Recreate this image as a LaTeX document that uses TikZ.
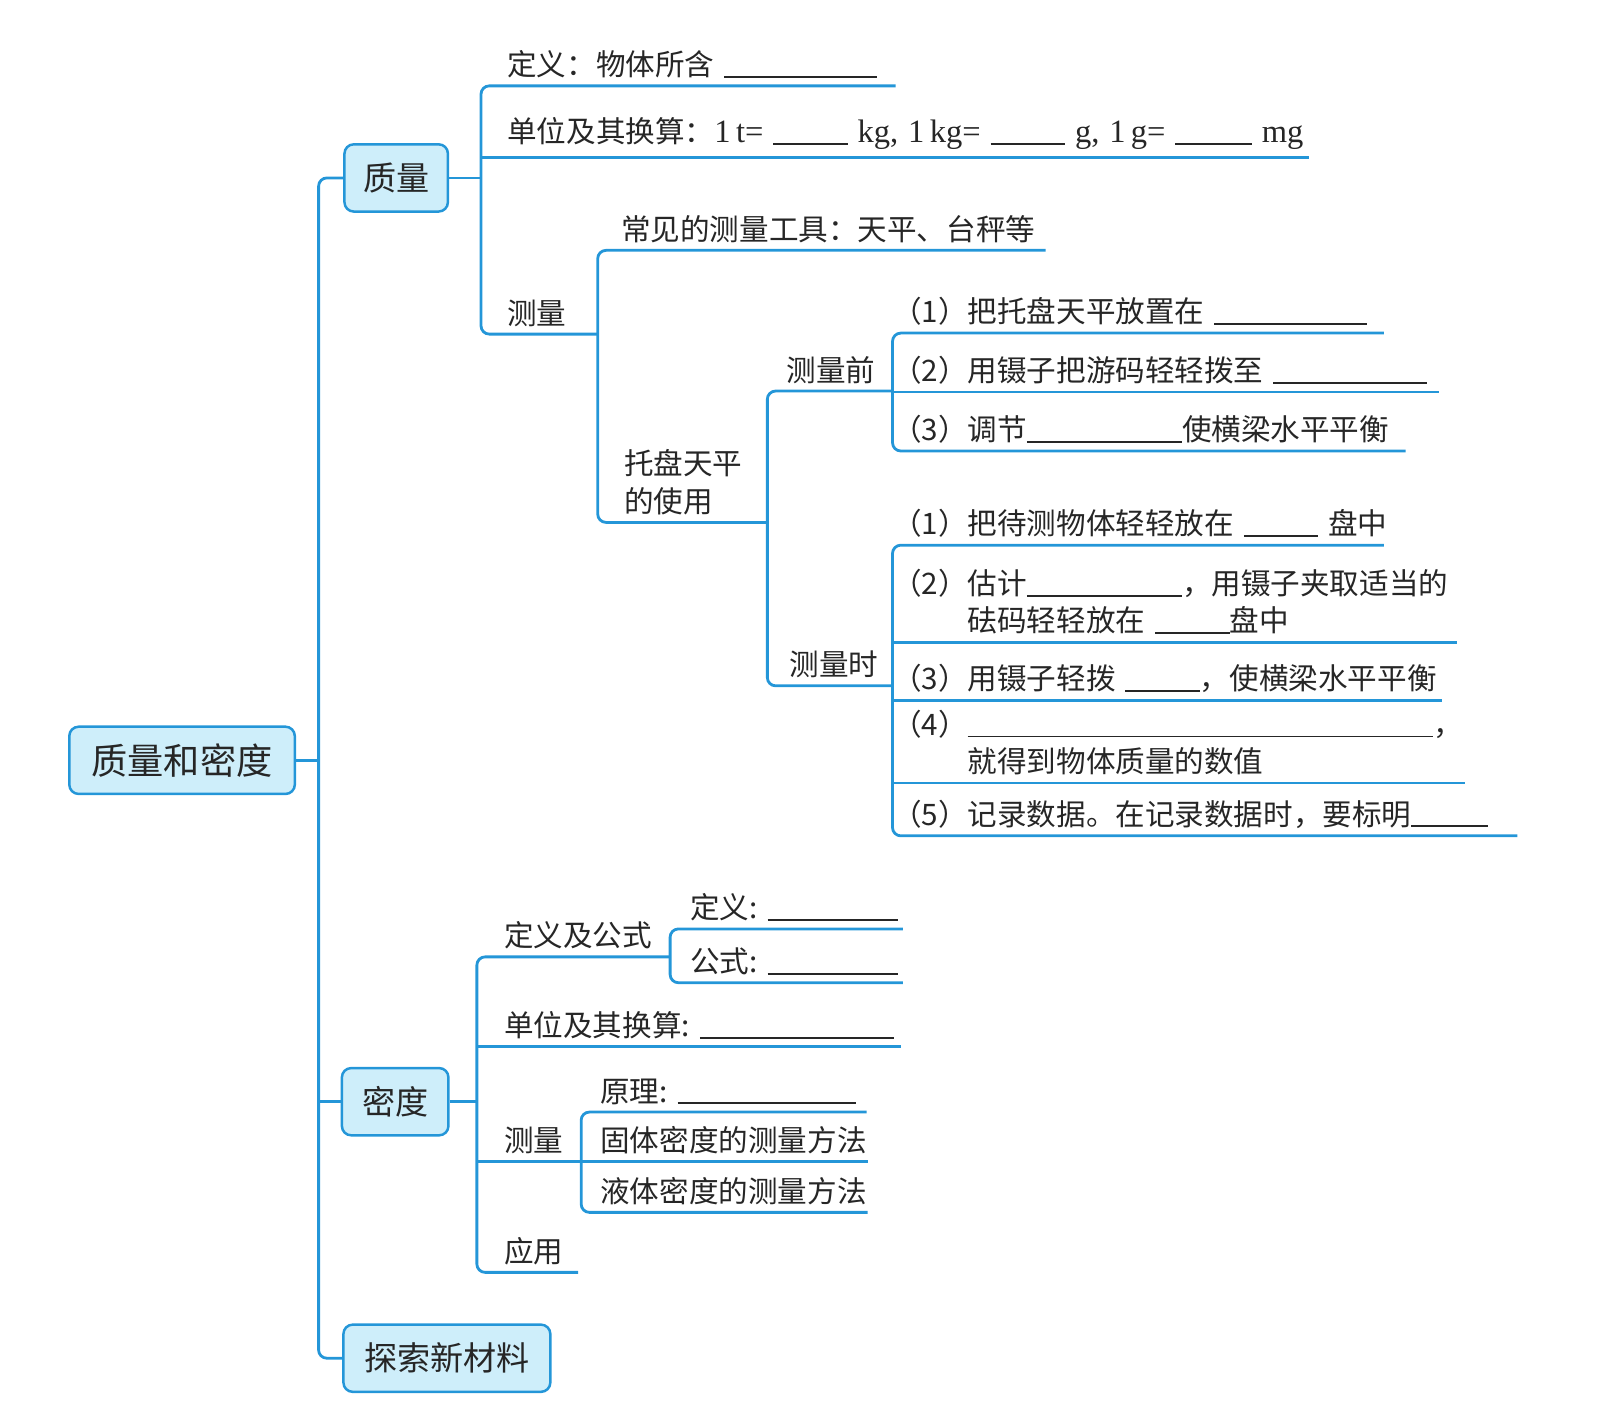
\documentclass[tikz,border=0pt]{standalone}
\usepackage{fontspec}
\setmainfont{Noto Sans CJK SC}
\newfontfamily\latinfont{Liberation Serif}[Scale=1.1]
\usepackage{tikz}
\usetikzlibrary{calc}
\definecolor{mapblue}{RGB}{36,150,216}
\definecolor{boxfill}{RGB}{206,238,250}
\tikzstyle{topic} = [rectangle, rounded corners=4.5pt, draw=mapblue, line width=1.2pt, fill=boxfill, text=black!85, minimum height=32.5pt, inner xsep=0pt, font=\fontsize{16pt}{18pt}\selectfont]
\tikzstyle{item} = [anchor=south west, inner xsep=0pt, inner ysep=3.5pt, align=left, text=black!85, font=\fontsize{14.3pt}{18pt}\selectfont]
\tikzstyle{branch} = [draw=mapblue, line width=1.35pt, rounded corners=4pt]
\newcommand{\blank}[1]{\rule[-1pt]{#1}{0.9pt}}

\begin{document}
\begin{tikzpicture}[x=0.5pt, y=-0.5pt]

        \useasboundingbox (0,0) rectangle (1568,1377);

        \node (title) [topic, minimum width=109pt, font=\fontsize{17.5pt}{20pt}\selectfont] at (176,735) {质量和密度};
        \node (mass) [topic, minimum width=50pt] at (383,172) {质量};
        \node (density) [topic, minimum width=51.5pt] at (382,1065) {密度};
        \node (material) [topic, minimum width=100pt] at (432,1313) {探索新材料};

        \coordinate (trunk) at (308,735);
        \draw[branch] (title.east) -- (trunk);
        \draw[branch] (mass.west) -- (mass.west -| trunk) -- (material.west -| trunk) -- (material.west);
        \draw[branch] (density.west) -- (density.west -| trunk);

        %% 质量

        \coordinate (massjoint) at (465,172);
        \draw[branch] (mass.east) -- (massjoint);

        \node (m1) [item, text width=187.5pt] at (490,83) {定义：物体所含~\blank{74pt}};
        \node (m2) [item, text width=387.5pt] at (490,152) {单位及其换算：{\latinfont 1\,t=~}\blank{36pt}{\latinfont~kg,~1\,kg=~}\blank{36pt}{\latinfont~g,~1\,g=~}\blank{37pt}{\latinfont~mg}};
        \node (m3) [item, text width=43.5pt] at (490,323) {测量};

        \draw[branch] (m1.south east) -- (m1.south east -| massjoint) -- (m3.south east -| massjoint) -- (m3.south east);
        \draw[branch] (m2.south east -| massjoint) -- (m2.south east);

        \node (t1) [item, text width=205pt] at (600,242) {常见的测量工具：天平、台秤等};
        \node (t2) [item, text width=69pt] at (603,505) {托盘天平\\的使用};

        \draw[branch] (t1.south east) -- (t1.south east -| m3.south east) -- (t2.south east -| m3.south east) -- (t2.south east);

        \node (b1) [item, text width=51pt] at (760,378) {测量前};
        \node (b2) [item, text width=49.5pt] at (763,663) {测量时};

        \draw[branch] (b1.south east) -- (b1.south east -| t2.south east) -- (b2.south east -| t2.south east) -- (b2.south east);

        %% 测量前

        \node (p1) [item, text width=237.5pt] at (862,322) {（1）把托盘天平放置在~\blank{74pt}};
        \node (p2) [item, text width=264pt] at (862,379) {（2）用镊子把游码轻轻拨至~\blank{74pt}};
        \node (p3) [item, text width=248pt] at (862,436) {（3）调节\blank{75pt}使横梁水平平衡};

        \draw[branch] (p1.south east) -- (p1.south east -| b1.south east) -- (p3.south east -| b1.south east) -- (p3.south east);
        \draw[branch] (p2.south east -| b1.south east) -- (p2.south east);

        %% 测量时

        \node (q1) [item, text width=237.5pt] at (862,527) {（1）把待测物体轻轻放在~\blank{36pt}~盘中};
        \node (q2) [item, text width=273pt] at (862,621) {（2）估计\blank{75pt}，用镊子夹取适当的\\\phantom{（2）}砝码轻轻放在~\blank{36pt}盘中};
        \node (q3) [item, text width=265.5pt] at (862,677) {（3）用镊子轻拨~\blank{36pt}，使横梁水平平衡};
        \node (q4) [item, text width=276.5pt] at (862,757) {（4）\blank{225pt}，\\\phantom{（4）}就得到物体质量的数值};
        \node (q5) [item, text width=302pt] at (862,808) {（5）记录数据。在记录数据时，要标明\blank{37pt}};

        \draw[branch] (q1.south east) -- (q1.south east -| b2.south east) -- (q5.south east -| b2.south east) -- (q5.south east);
        \draw[branch] (q2.south east -| b2.south east) -- (q2.south east);
        \draw[branch] (q3.south east -| b2.south east) -- (q3.south east);
        \draw[branch] (q4.south east -| b2.south east) -- (q4.south east);

        %% 密度

        \coordinate (densjoint) at (461,1065);
        \draw[branch] (density.east) -- (densjoint);

        \node (d1) [item, text width=80pt] at (487,925) {定义及公式};
        \node (d2) [item, text width=191.5pt] at (487,1012) {单位及其换算:~\blank{94pt}};
        \node (d3) [item, text width=37pt] at (487,1123) {测量};
        \node (d4) [item, text width=35.5pt] at (487,1230) {应用};

        \draw[branch] (d1.south east) -- (d1.south east -| densjoint) -- (d4.south east -| densjoint) -- (d4.south east);
        \draw[branch] (d2.south east -| densjoint) -- (d2.south east);
        \draw[branch] (d3.south east -| densjoint) -- (d3.south east);

        \node (f1) [item, text width=102.5pt] at (667,898) {定义:~\blank{63pt}};
        \node (f2) [item, text width=102.5pt] at (667,950) {公式:~\blank{63pt}};

        \draw[branch] (f1.south east) -- (f1.south east -| d1.south east) -- (f2.south east -| d1.south east) -- (f2.south east);

        \node (g1) [item, text width=128.5pt] at (580,1075) {原理:~\blank{86pt}};
        \node (g2) [item, text width=129pt] at (580,1123) {固体密度的测量方法};
        \node (g3) [item, text width=129pt] at (580,1172) {液体密度的测量方法};

        \draw[branch] (g1.south east) -- (g1.south east -| d3.south east) -- (g3.south east -| d3.south east) -- (g3.south east);
        \draw[branch] (g2.south east -| d3.south east) -- (g2.south east);

    \end{tikzpicture}
\end{document}
